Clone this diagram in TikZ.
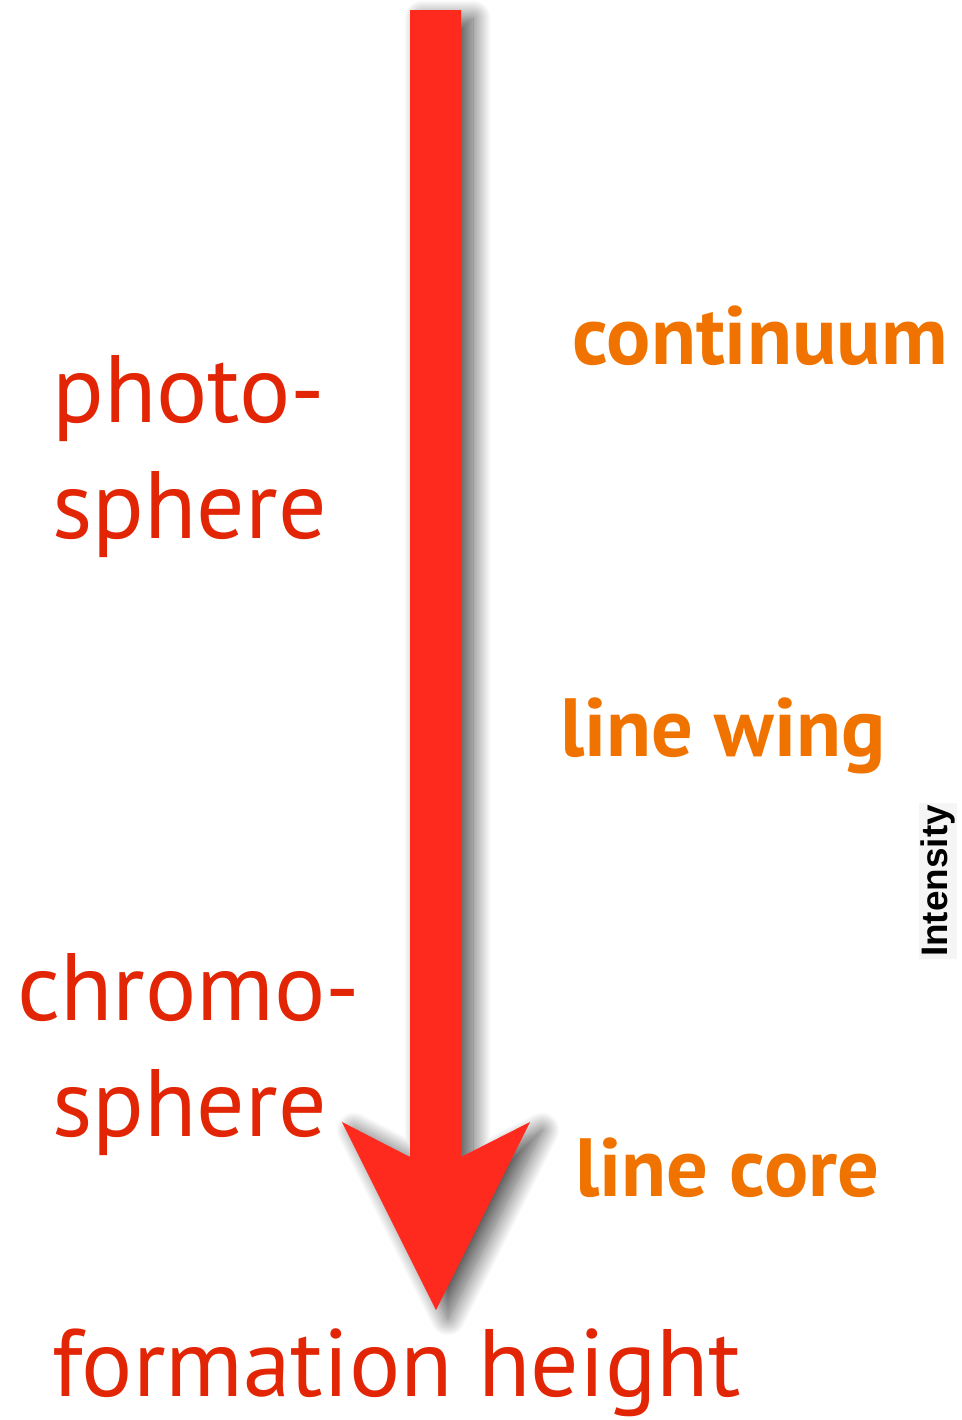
\documentclass[tikz,border=0pt]{standalone}
\usepackage{fontspec}
\usepackage{xcolor}
\usetikzlibrary{calc,shadows.blur}
\newfontfamily\labelfont{PT Sans}
\newfontfamily\axisfont{Liberation Sans}
\definecolor{arrowred}{RGB}{255,42,30}
\definecolor{layerred}{RGB}{226,38,5}
\definecolor{lineorange}{RGB}{240,115,0}
\tikzset{
  layer/.style={anchor=base west, inner sep=0pt, text=layerred, font=\labelfont\fontsize{54.5}{66}\selectfont},
  part/.style={anchor=base west, inner sep=0pt, text=lineorange, font=\labelfont\bfseries\fontsize{47}{56}\selectfont},
  axis/.style={rotate=90, inner sep=1pt, fill=black!4, font=\axisfont\bfseries\fontsize{21}{24}\selectfont}
}
\begin{document}
\begin{tikzpicture}[x=0.02cm, y=-0.02cm]
  \useasboundingbox (0,0) rectangle (961,1420);
  % the height arrow
  \coordinate (top) at (436,10);
  \coordinate (tip) at (436,1310);
  \fill[arrowred, blur shadow={shadow xshift=0.24cm, shadow yshift=-0.16cm, shadow blur radius=0.36cm, shadow blur steps=30, shadow opacity=70}]
    ($(top)+(-26,0)$) -- ($(top)+(25,0)$) -- (461,1157) -- (530,1122) -- (tip)
    -- (342,1122) -- (410,1157) -- cycle;

  % layers
  \node[layer] (photo) at (52,422) {photo-};
  \node[layer] (photosph) at (52,538) {sphere};
  \node[layer] (chromo) at (17,1020) {chromo-};
  \node[layer] (chromosph) at (52,1136) {sphere};
  \node[layer] (height) at (52,1396) {formation height};

  % spectral parts
  \node[part] (cont) at (572,364) {continuum};
  \node[part] (wing) at (560,756) {line wing};
  \node[part] (core) at (575,1196) {line core};

  \node[axis] (intens) at (938,881) {Intensity};
\end{tikzpicture}
\end{document}
